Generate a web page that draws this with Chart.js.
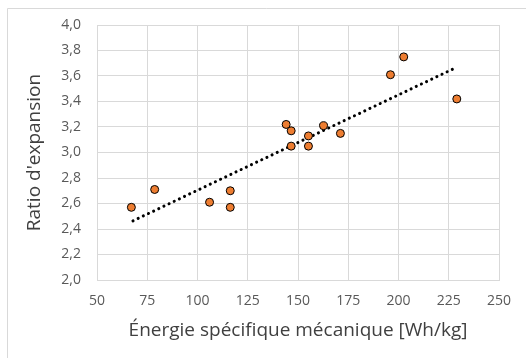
<!DOCTYPE html>
<html>
<head>
<meta charset="utf-8">
<script src="https://cdn.jsdelivr.net/npm/chart.js@4"></script>
<style>
html,body{margin:0;padding:0;background:#fff;}
canvas{display:block;}
</style>
</head>
<body>
<canvas id="c" width="526" height="358"></canvas>
<script>
const energy = [67.1, 78.7, 106.0, 116.3, 116.3, 144.1, 146.6, 146.6, 155.2, 155.2, 162.7, 171.1, 196.0, 202.6, 229.0];
const ratio  = [2.57, 2.71, 2.61, 2.70, 2.57, 3.22, 3.17, 3.05, 3.13, 3.05, 3.21, 3.15, 3.61, 3.75, 3.42];
const trendX = [67.9, 227.0];
const trendY = [2.464, 3.654];
const xTitle = "Énergie spécifique mécanique [Wh/kg]";
const yTitle = "Ratio d'expansion";

const FONT = "'Open Sans', 'Noto Sans', sans-serif";

const frame = {
  id: 'frame',
  beforeDraw(chart) {
    const ctx = chart.ctx;
    ctx.save();
    ctx.fillStyle = '#fff';
    ctx.fillRect(0, 0, chart.width, chart.height);
    ctx.strokeStyle = '#d9d9d9';
    ctx.lineWidth = 1;
    ctx.beginPath();
    ctx.moveTo(7.5, chart.height);
    ctx.lineTo(7.5, 8.5);
    ctx.lineTo(chart.width, 8.5);
    ctx.stroke();
    ctx.restore();
  }
};

new Chart(document.getElementById('c'), {
  type: 'scatter',
  data: {
    datasets: [
      {
        data: energy.map((x, i) => ({x, y: ratio[i]})),
        backgroundColor: '#ED7D31',
        borderColor: '#000',
        borderWidth: 1,
        pointRadius: 4,
        order: 1
      },
      {
        data: trendX.map((x, i) => ({x, y: trendY[i]})),
        showLine: true,
        borderColor: '#000',
        borderWidth: 3,
        borderDash: [0.1, 5.6],
        borderCapStyle: 'round',
        pointRadius: 0,
        order: 2
      }
    ]
  },
  options: {
    responsive: false,
    devicePixelRatio: 1,
    animation: false,
    layout: { padding: { left: 8, top: 25, right: 27, bottom: 0 } },
    plugins: { legend: { display: false }, tooltip: { enabled: false } },
    scales: {
      x: {
        type: 'linear',
        min: 50, max: 250,
        ticks: { stepSize: 25, color: '#595959', font: { family: FONT, size: 14 }, padding: 13, maxRotation: 0 },
        grid: { color: '#d9d9d9', drawTicks: false },
        border: { color: '#d9d9d9' },
        title: { display: true, text: xTitle, color: '#404040', font: { family: FONT, size: 19 }, padding: { top: 0, bottom: 16 } },
        afterFit(s) { s.height = 78; }
      },
      y: {
        min: 2, max: 4,
        ticks: { stepSize: 0.2, color: '#595959', font: { family: FONT, size: 14 }, padding: 16,
          callback: v => v.toFixed(1).replace('.', ',') },
        grid: { color: '#d9d9d9', drawTicks: false },
        border: { color: '#d9d9d9' },
        title: { display: true, text: yTitle, color: '#404040', font: { family: FONT, size: 19 }, padding: { top: 15, bottom: 0 } },
        afterFit(s) { s.width = 89; }
      }
    }
  },
  plugins: [frame]
});
</script>
</body>
</html>
